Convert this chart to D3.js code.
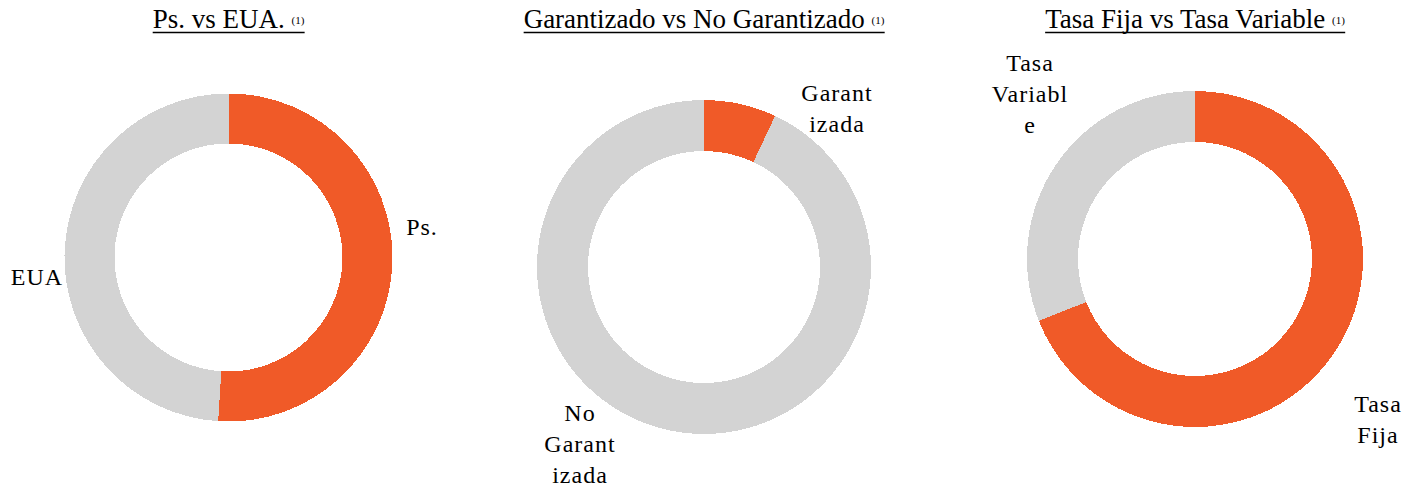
<!DOCTYPE html>
<html>
<head>
<meta charset="utf-8">
<script src="https://cdn.jsdelivr.net/npm/d3@7/dist/d3.min.js"></script>
</head>
<body style="margin:0">
<svg id="chart" width="1422" height="489"></svg>
<script>
// Chart titles
const titles = ["Ps. vs EUA.", "Garantizado vs No Garantizado", "Tasa Fija vs Tasa Variable"];
const footnote = "(1)";

// Slice labels per chart (first slice = highlighted one)
const labelsCurrency = ["Ps.", "EUA"];
const labelsGuarantee = ["Garantizada", "No Garantizada"];
const labelsRate = ["Tasa Fija", "Tasa Variable"];

// Shares in percent
const valuesCurrency = [51, 49];
const valuesGuarantee = [7, 93];
const valuesRate = [69, 31];

// Wrapped text lines as they are shown next to each ring
const linesCurrency = [["Ps."], ["EUA"]];
const linesGuarantee = [["Garant", "izada"], ["No", "Garant", "izada"]];
const linesRate = [["Tasa", "Fija"], ["Tasa", "Variabl", "e"]];

const colors = ["#F05A28", "#D3D3D3"];
const fontName = "Liberation Serif";
const titleFont = '"Times New Roman"';

// Layout of each panel: ring centre, radii and label offsets (first baseline) from the centre
const panels = [
  { title: titles[0], labels: labelsCurrency, values: valuesCurrency, lines: linesCurrency,
    cx: 228.5, cy: 257.5, outer: 164, inner: 114,
    labelPos: [[193.5, -22.5], [-191.5, 27.5]] },
  { title: titles[1], labels: labelsGuarantee, values: valuesGuarantee, lines: linesGuarantee,
    cx: 704, cy: 267, outer: 167, inner: 116,
    labelPos: [[133, -166], [-124, 154]] },
  { title: titles[2], labels: labelsRate, values: valuesRate, lines: linesRate,
    cx: 1195, cy: 259, outer: 168, inner: 117,
    labelPos: [[183, 153], [-165, -188]] }
];

const svg = d3.select("#chart");
const lineHeight = 31;

panels.forEach(p => {
  const data = p.labels.map((l, i) => ({ label: l, value: p.values[i], lines: p.lines[i], pos: p.labelPos[i] }));

  const pie = d3.pie().sort(null).value(d => d.value).startAngle(0).endAngle(2 * Math.PI);
  const arc = d3.arc().innerRadius(p.inner).outerRadius(p.outer);
  const color = d3.scaleOrdinal().domain(p.labels).range(colors);

  const g = svg.append("g").attr("transform", `translate(${p.cx},${p.cy})`);

  g.selectAll("path.slice")
    .data(pie(data))
    .join("path")
    .attr("class", "slice")
    .attr("d", arc)
    .attr("fill", d => color(d.data.label))
    .attr("shape-rendering", "crispEdges");

  // Slice labels, one text element per wrapped line
  data.forEach(d => {
    d.lines.forEach((ln, i) => {
      g.append("text")
        .attr("x", d.pos[0])
        .attr("y", d.pos[1] + i * lineHeight)
        .attr("text-anchor", "middle")
        .attr("font-family", fontName)
        .attr("font-size", 24)
        .attr("letter-spacing", 1)
        .attr("fill", "#000")
        .text(ln);
    });
  });

  // Title with a small footnote mark, centred over the ring
  const t = svg.append("text")
    .attr("x", p.cx)
    .attr("y", 28)
    .attr("text-anchor", "middle")
    .style("font-family", titleFont)
    .style("font-size", "27px")
    .attr("fill", "#000");
  t.append("tspan").text(p.title + " ");
  t.append("tspan").style("font-size", "11px").attr("dy", -4).text(footnote);

  // Single rule under title and footnote
  const bb = t.node().getBBox();
  svg.append("line")
    .attr("x1", bb.x).attr("x2", bb.x + bb.width)
    .attr("y1", 32.5).attr("y2", 32.5)
    .attr("stroke", "#000").attr("stroke-width", 1.5);
});
</script>
</body>
</html>
